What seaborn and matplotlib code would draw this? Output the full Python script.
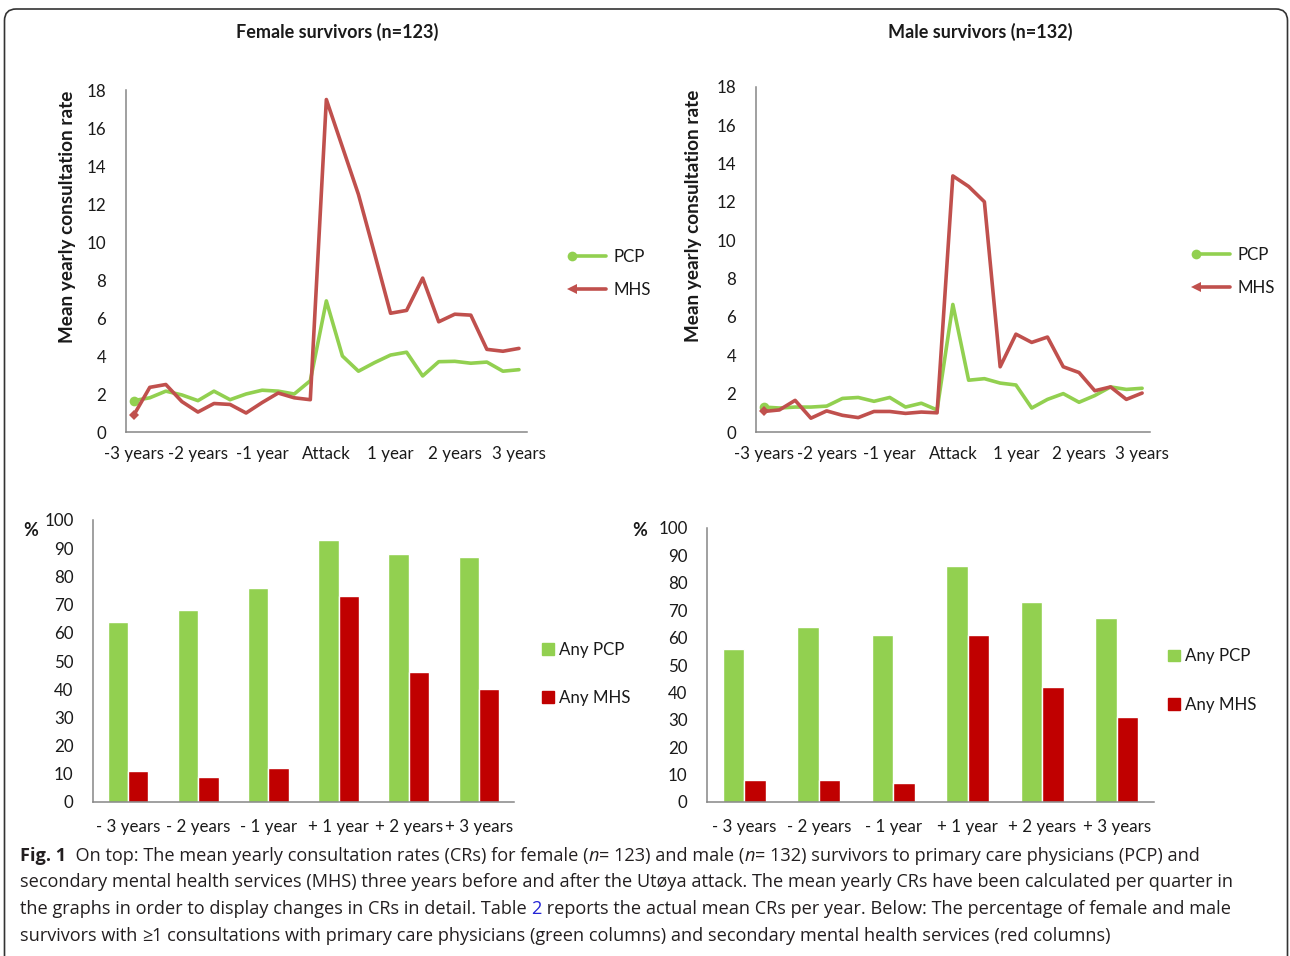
import numpy as np
import pandas as pd
import seaborn as sns
import matplotlib
matplotlib.use("Agg")
import matplotlib.pyplot as plt
from matplotlib.lines import Line2D
from matplotlib.patches import Patch, FancyBboxPatch
from matplotlib.legend_handler import HandlerLine2D

# ---------------- data ----------------
quarter_idx = list(range(25))
quarter_label_pos = [0, 4, 8, 12, 16, 20, 24]
quarter_labels = ["-3 years", "-2 years", "-1 year", "Attack", "1 year", "2 years", "3 years"]

female_pcp = [1.65, 1.8, 2.15, 1.95, 1.65, 2.15, 1.7, 2.0, 2.2, 2.15, 2.0, 2.7, 6.9,
              4.0, 3.2, 3.65, 4.05, 4.2, 2.95, 3.7, 3.72, 3.62, 3.68, 3.2, 3.28]
female_mhs = [0.88, 2.35, 2.5, 1.6, 1.05, 1.5, 1.45, 1.0, 1.55, 2.05, 1.8, 1.7, 17.5,
              15.0, 12.5, 9.4, 6.25, 6.4, 8.1, 5.8, 6.2, 6.15, 4.35, 4.25, 4.4]
male_pcp = [1.3, 1.25, 1.3, 1.3, 1.35, 1.75, 1.8, 1.6, 1.8, 1.3, 1.5, 1.15, 6.65,
            2.7, 2.78, 2.55, 2.45, 1.25, 1.7, 2.0, 1.55, 1.9, 2.35, 2.22, 2.28]
male_mhs = [1.07, 1.15, 1.65, 0.72, 1.1, 0.87, 0.75, 1.07, 1.07, 0.97, 1.04, 1.0, 13.35,
            12.8, 12.0, 3.4, 5.1, 4.67, 4.95, 3.4, 3.1, 2.15, 2.35, 1.7, 2.03]

year_labels = ["- 3 years", "- 2 years", "- 1 year", "+ 1 year", "+ 2 years", "+ 3 years"]
female_any_pcp = [64, 68, 76, 93, 88, 87]
female_any_mhs = [11, 9, 12, 73, 46, 40]
male_any_pcp = [56, 64, 61, 86, 73, 67]
male_any_mhs = [8, 8, 7, 61, 42, 31]

# ---------------- style ----------------
sns.set_theme(style="white")
plt.rcParams["font.family"] = ["Lato", "DejaVu Sans"]
W, H = 1290, 956
GREEN_LINE = "#92D050"
RED_LINE = "#C0504D"
GREEN_BAR = "#92D050"
RED_BAR = "#C00000"
AXC = "#868686"
TXT = "#1a1a1a"
TICK_FS = 12.2

fig = plt.figure(figsize=(W / 100, H / 100), dpi=100)


def px_axes(x0, y0, x1, y1):
    return fig.add_axes([x0 / W, 1 - y1 / H, (x1 - x0) / W, (y1 - y0) / H])


def style_axes(ax):
    for s in ["top", "right"]:
        ax.spines[s].set_visible(False)
    for s in ["left", "bottom"]:
        ax.spines[s].set_color(AXC)
        ax.spines[s].set_linewidth(1.1)
    ax.tick_params(axis="both", which="major", direction="out", length=5, width=1.1,
                   color=AXC, labelsize=TICK_FS, labelcolor=TXT)
    ax.grid(False)
    ax.set_facecolor("white")


def line_panel(ax, pcp, mhs):
    df = pd.DataFrame({"q": quarter_idx, "PCP": pcp, "MHS": mhs})
    sns.lineplot(data=df, x="q", y="PCP", ax=ax, color=GREEN_LINE, lw=2.6,
                 marker="o", markersize=7, markevery=[0], markeredgewidth=0)
    sns.lineplot(data=df, x="q", y="MHS", ax=ax, color=RED_LINE, lw=2.6,
                 marker="D", markersize=5, markevery=[0], markeredgewidth=0)
    style_axes(ax)
    ax.set_xlim(-0.5, 24.5)
    ax.set_ylim(0, 18)
    ax.set_yticks(range(0, 19, 2))
    ax.set_xticks(np.arange(-0.5, 24, 2))
    ax.set_xticklabels([])
    ax.set_xticks(quarter_label_pos, minor=True)
    ax.set_xticklabels(quarter_labels, minor=True)
    ax.tick_params(axis="x", which="minor", length=0, pad=10, labelsize=TICK_FS, labelcolor=TXT)
    ax.tick_params(axis="y", pad=9)
    ax.set_xlabel("")
    ax.set_ylabel("")


def bar_panel(ax, pcp, mhs):
    df = pd.DataFrame({
        "year": year_labels * 2,
        "val": pcp + mhs,
        "kind": ["Any PCP"] * 6 + ["Any MHS"] * 6,
    })
    sns.barplot(data=df, x="year", y="val", hue="kind", ax=ax,
                palette={"Any PCP": GREEN_BAR, "Any MHS": RED_BAR},
                width=0.58, gap=0, saturation=1, legend=False)
    style_axes(ax)
    ax.set_xlim(-0.5, 5.5)
    ax.set_ylim(0, 100)
    ax.set_yticks(range(0, 101, 10))
    ax.set_xticks(np.arange(-0.5, 6, 1))
    ax.set_xticklabels([])
    ax.set_xticks(range(6), minor=True)
    ax.set_xticklabels(year_labels, minor=True)
    ax.tick_params(axis="x", which="minor", length=0, pad=12, labelsize=TICK_FS, labelcolor=TXT)
    ax.tick_params(axis="y", pad=9)
    ax.set_xlabel("")
    ax.set_ylabel("")


ax1 = px_axes(125.7, 90, 527, 432)
line_panel(ax1, female_pcp, female_mhs)
ax2 = px_axes(755.7, 86.7, 1150, 432)
line_panel(ax2, male_pcp, male_mhs)
ax3 = px_axes(93, 520, 514, 802)
bar_panel(ax3, female_any_pcp, female_any_mhs)
ax4 = px_axes(707, 528, 1154, 802)
bar_panel(ax4, male_any_pcp, male_any_mhs)


def ftext(x, y, s, **kw):
    return fig.text(x / W, 1 - y / H, s, **kw)


# titles
ftext(337, 32, "Female survivors (n=123)", ha="center", va="center", fontsize=13,
      fontweight="bold", color=TXT)
ftext(980, 32, "Male survivors (n=132)", ha="center", va="center", fontsize=13,
      fontweight="bold", color=TXT)
# y labels
ftext(68, 217, "Mean yearly consultation rate", rotation=90, ha="center", va="center",
      fontsize=13.6, fontweight="bold", color=TXT)
ftext(693, 216, "Mean yearly consultation rate", rotation=90, ha="center", va="center",
      fontsize=13.6, fontweight="bold", color=TXT)
ftext(31, 531, "%", ha="center", va="center", fontsize=13, fontweight="bold", color=TXT)
ftext(640, 531, "%", ha="center", va="center", fontsize=13, fontweight="bold", color=TXT)


class LeftMarkerHandler(HandlerLine2D):
    def create_artists(self, legend, orig_handle, xdescent, ydescent, width, height,
                       fontsize, trans):
        artists = super().create_artists(legend, orig_handle, xdescent, ydescent, width,
                                         height, fontsize, trans)
        for a in artists:
            a.set_markevery([0])
        return artists


# legends
line_handles = [
    Line2D([0], [0], color=GREEN_LINE, lw=2.6, marker="o", markersize=7,
           markeredgewidth=0),
    Line2D([0], [0], color=RED_LINE, lw=2.6, marker="<", markersize=7,
           markeredgewidth=0),
]
bar_handles = [Patch(color=GREEN_BAR), Patch(color=RED_BAR)]
common = dict(frameon=False, borderpad=0, borderaxespad=0, fontsize=TICK_FS,
              loc="center left", labelcolor=TXT)
hmap = {h: LeftMarkerHandler(numpoints=2) for h in line_handles}
fig.legend(line_handles, ["PCP", "MHS"], bbox_to_anchor=(567 / W, 1 - 273.5 / H),
           handlelength=2.6, handletextpad=0.15, labelspacing=1.05, handler_map=hmap, **common)
fig.legend(line_handles, ["PCP", "MHS"], bbox_to_anchor=(1191 / W, 1 - 271.5 / H),
           handlelength=2.6, handletextpad=0.15, labelspacing=1.05, handler_map=hmap, **common)
fig.legend(bar_handles, ["Any PCP", "Any MHS"], bbox_to_anchor=(542 / W, 1 - 674 / H),
           handlelength=0.7, handleheight=0.7, handletextpad=0.3, labelspacing=1.9, **common)
fig.legend(bar_handles, ["Any PCP", "Any MHS"], bbox_to_anchor=(1168 / W, 1 - 680.5 / H),
           handlelength=0.7, handleheight=0.7, handletextpad=0.3, labelspacing=1.9, **common)

# border frame
frame = FancyBboxPatch((4.5 / W, -20 / H), 1283 / W, (956 - 9 + 20) / H,
                       boxstyle="round,pad=0,rounding_size=0.009",
                       transform=fig.transFigure, fill=False, edgecolor="#333333",
                       lw=1.2, mutation_aspect=W / H)
fig.patches.append(frame)

# caption with mixed runs
CAP_FAMILY = ["Open Sans", "DejaVu Sans"]
CAP_COL = "#231f20"
renderer = fig.canvas.get_renderer()


def text_width(s, size, **kw):
    t = fig.text(0, 0, "x" + s + "x", fontsize=size, family=CAP_FAMILY, **kw)
    t2 = fig.text(0, 0, "xx", fontsize=size, family=CAP_FAMILY, **kw)
    w = t.get_window_extent(renderer).width - t2.get_window_extent(renderer).width
    t.remove()
    t2.remove()
    return w


line2 = ("secondary mental health services (MHS) three years before and after the Utøya attack. "
         "The mean yearly CRs have been calculated per quarter in")
base = 10.0
cap_size = base * 1212 / text_width(line2, base)

caption = [
    [("Fig. 1", dict(fontweight="bold")),
     ("  On top: The mean yearly consultation rates (CRs) for female (", {}),
     ("n", dict(style="italic")), ("= 123) and male (", {}), ("n", dict(style="italic")),
     ("= 132) survivors to primary care physicians (PCP) and", {})],
    [(line2, {})],
    [("the graphs in order to display changes in CRs in detail. Table ", {}),
     ("2", dict(color="#2424d6")),
     (" reports the actual mean CRs per year. Below: The percentage of female and male", {})],
    [("survivors with ", {}), ("≥", {}),
     ("1 consultations with primary care physicians (green columns) and secondary mental "
      "health services (red columns)", {})],
]
baselines = [861, 887, 914, 941]
for runs, yb in zip(caption, baselines):
    x = 20.0
    for s, kw in runs:
        kw2 = dict(kw)
        color = kw2.pop("color", CAP_COL)
        fig.text(x / W, 1 - yb / H, s, fontsize=cap_size, family=CAP_FAMILY,
                 va="baseline", ha="left", color=color, **kw2)
        x += text_width(s, cap_size, **kw2)

fig.savefig("out.png", dpi=100)
